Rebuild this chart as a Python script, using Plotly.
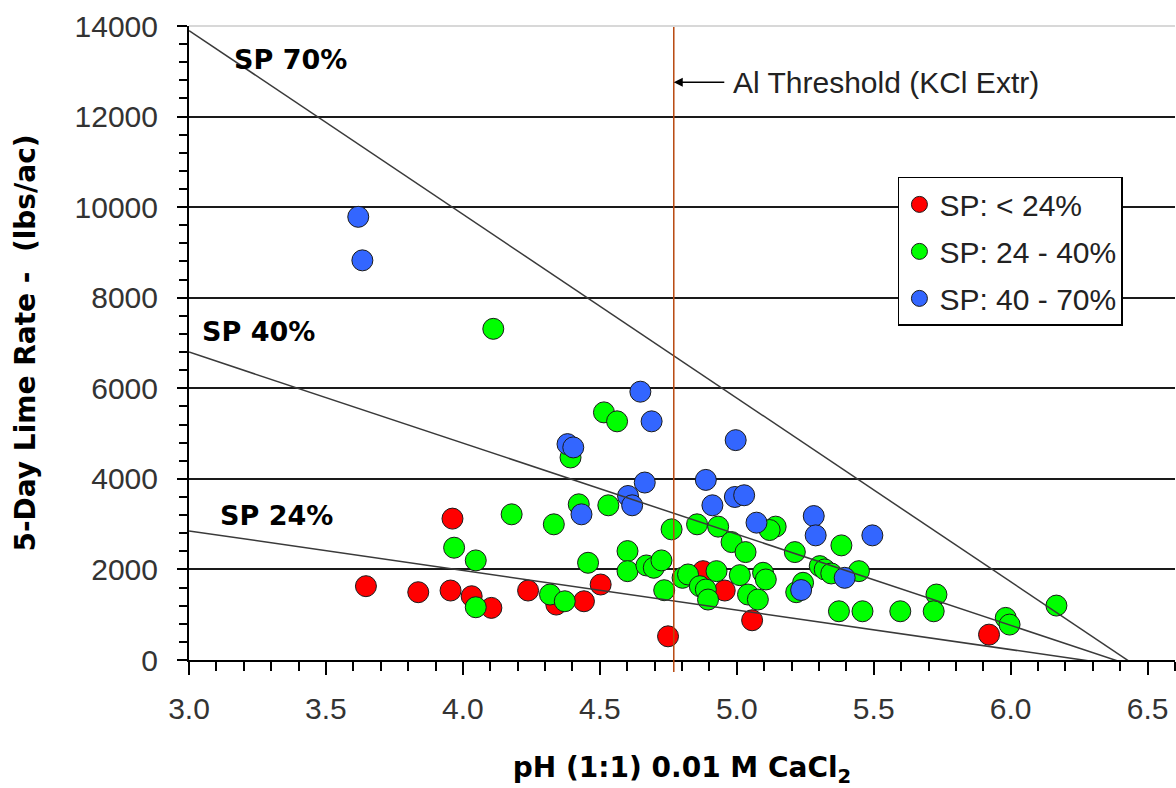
import plotly.graph_objects as go

# ---- data ----
red_ph = [3.646, 3.837, 3.955, 3.962, 4.032, 4.104, 4.238, 4.341, 4.442, 4.503,
          4.749, 4.877, 4.956, 5.056, 5.921]
red_lime = [1630, 1497, 1534, 3122, 1408, 1151, 1534, 1224, 1297, 1667,
            523, 1962, 1534, 877, 560]

green_ph = [4.111, 4.515, 4.563, 4.393, 4.423, 4.531, 4.178, 4.332, 4.762, 4.855,
            4.932, 5.142, 5.120, 4.981, 5.032, 5.212, 3.968, 4.047, 4.457, 4.601,
            4.601, 4.670, 4.697, 4.725, 4.802, 4.822, 4.735, 4.926, 4.865, 4.887,
            4.895, 5.011, 5.041, 5.077, 5.096, 5.106, 4.318, 4.372, 4.047, 5.382,
            5.303, 5.321, 5.345, 5.446, 5.217, 5.242, 5.373, 5.459, 5.597, 5.729,
            5.719, 5.982, 5.996, 6.167]
green_lime = [7313, 5468, 5270, 4472, 3438, 3416, 3217, 2996, 2885, 2996,
              2945, 2945, 2870, 2604, 2383, 2383, 2480, 2199, 2147, 2405,
              1962, 2088, 2037, 2199, 1815, 1889, 1541, 1962, 1630, 1556,
              1335, 1874, 1446, 1335, 1926, 1778, 1446, 1297, 1165, 2531,
              2073, 2000, 1911, 1962, 1497, 1705, 1076, 1076, 1076, 1446,
              1076, 930, 782, 1202]

blue_ph = [3.618, 3.633, 4.382, 4.403, 4.433, 4.603, 4.618, 4.648, 4.664, 4.689,
           4.887, 4.911, 4.993, 4.996, 5.027, 5.072, 5.235, 5.281, 5.288, 5.394,
           5.495]
blue_lime = [9786, 8825, 4767, 4694, 3217, 3622, 3416, 5925, 3919, 5270,
             3977, 3416, 3600, 4855, 3638, 3033, 1545, 3179, 2752, 1815,
             2752]

series_names = ["SP: < 24%", "SP: 24 - 40%", "SP: 40 - 70%"]

# SP reference lines (end points in pH / lbs per acre)
sp_line_ph = [3.0, 6.47]
sp70_lime = [13900, -180]
sp40_lime = [6800, -180]
sp24_lime = [2850, -180]
sp_labels = ["SP 70%", "SP 40%", "SP 24%"]
sp_label_ph = [3.157, 3.040, 3.106]
sp_label_lime = [13250, 7265, 3180]

al_threshold_ph = 4.77
al_label = "Al Threshold (KCl Extr)"
al_label_lime = 12760

x_ticks = [3.0, 3.5, 4.0, 4.5, 5.0, 5.5, 6.0, 6.5]
y_ticks = [0, 2000, 4000, 6000, 8000, 10000, 12000, 14000]

REG = "Liberation Sans, Arial, sans-serif"
BOLD = "DejaVu Sans, sans-serif"

fig = go.Figure()

colors = ["#FF0000", "#00FF00", "#3366FF"]
for i, (xs, ys) in enumerate([(red_ph, red_lime), (green_ph, green_lime), (blue_ph, blue_lime)]):
    fig.add_trace(go.Scatter(
        x=xs, y=ys, mode="markers", name=series_names[i],
        legendgroup=f"g{i}",
        marker=dict(size=21, color=colors[i], line=dict(color="#1a1a1a", width=1)),
    ))

for ys in (sp70_lime, sp40_lime, sp24_lime):
    fig.add_trace(go.Scatter(
        x=sp_line_ph, y=ys, mode="lines", showlegend=False, hoverinfo="skip",
        line=dict(color="#3a3a3a", width=1.5),
    ))

# Al threshold vertical line
fig.add_shape(type="line", xref="x", yref="paper", x0=al_threshold_ph, x1=al_threshold_ph,
              y0=-0.019, y1=1, line=dict(color="#B8480F", width=1.5), layer="above")
# light top border
fig.add_shape(type="line", xref="paper", yref="paper", x0=0, x1=1, y0=1, y1=1,
              line=dict(color="#d8d8d8", width=2), layer="above")

for t, xv, yv in zip(sp_labels, sp_label_ph, sp_label_lime):
    fig.add_annotation(x=xv, y=yv, text=f"<b>{t}</b>", showarrow=False, xanchor="left",
                       yanchor="middle", font=dict(family=BOLD, size=27, color="#000"))

fig.add_annotation(x=al_threshold_ph, y=al_label_lime, ax=212, ay=0, axref="pixel",
                   text=al_label, showarrow=True, arrowhead=2, arrowsize=1.2,
                   arrowwidth=1.5, arrowcolor="#000", standoff=0, borderpad=8,
                   font=dict(family=REG, size=30, color="#222"))

fig.update_layout(
    width=1176, height=788,
    margin=dict(l=189, r=1, t=26, b=128, autoexpand=False),
    paper_bgcolor="white", plot_bgcolor="white",
    showlegend=True,
    legend=dict(x=0.719, y=0.762, xanchor="left", yanchor="top",
                bgcolor="white", bordercolor="#000", borderwidth=1.5,
                font=dict(family=REG, size=30, color="#222"),
                tracegroupgap=5, traceorder="grouped"),
    xaxis=dict(range=[3.0, 6.6], tickvals=x_ticks, tickformat=".1f",
               showgrid=False, zeroline=False,
               showline=True, linecolor="#000", linewidth=2,
               ticks="outside", ticklen=13, tickwidth=2, tickcolor="#000",
               minor=dict(dtick=0.1, tick0=3.0, ticks="outside", ticklen=9, tickwidth=1.5,
                          tickcolor="#000", showgrid=False),
               tickfont=dict(family=REG, size=30, color="#333"),
               ticklabelstandoff=8,
               title=dict(text="<b>pH (1:1) 0.01 M CaCl<sub>2</sub></b>",
                          font=dict(family=BOLD, size=28, color="#000"), standoff=43)),
    yaxis=dict(range=[0, 14000], tickvals=y_ticks, tickformat="d",
               showgrid=True, gridcolor="#1a1a1a", gridwidth=1.5, zeroline=False,
               showline=True, linecolor="#000", linewidth=2,
               ticks="outside", ticklen=10, tickwidth=2, tickcolor="#000",
               minor=dict(dtick=400, tick0=0, ticks="outside", ticklen=8, tickwidth=1.5,
                          tickcolor="#000", showgrid=False),
               tickfont=dict(family=REG, size=30, color="#333"),
               ticklabelstandoff=13,
               title=dict(text="<b>5-Day Lime Rate -  (lbs/ac)</b>",
                          font=dict(family=BOLD, size=28, color="#000"), standoff=31)),
)

fig.write_html("out.html", config={"displayModeBar": False},
               post_script="document.body.style.margin='0px';")
